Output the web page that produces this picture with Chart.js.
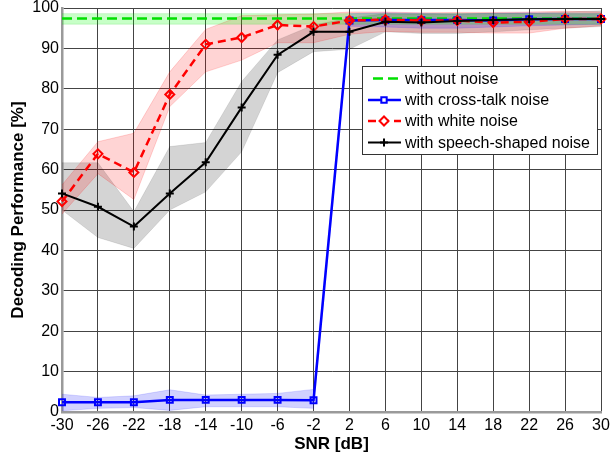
<!DOCTYPE html>
<html>
<head>
<meta charset="utf-8">
<script src="https://cdn.jsdelivr.net/npm/chart.js@4/dist/chart.umd.min.js"></script>
<style>
html,body{margin:0;padding:0;background:#fff;}
#wrap{position:relative;width:610px;height:459px;}
</style>
</head>
<body>
<div id="wrap"><canvas id="c" width="610" height="459"></canvas></div>
<script>
const snrLabels = ['-30','-26','-22','-18','-14','-10','-6','-2','2','6','10','14','18','22','26','30'];

const withoutNoise     = [97.4,97.4,97.4,97.4,97.4,97.4,97.4,97.4,97.4,97.4,97.4,97.4,97.4,97.4,97.4,97.4];
const withoutNoiseLow  = [96.0,96.0,96.0,96.0,96.0,96.0,96.0,96.0,96.0,96.0,96.0,96.0,96.0,96.0,96.0,96.0];
const withoutNoiseHigh = [98.6,98.6,98.6,98.6,98.6,98.6,98.6,98.6,98.6,98.6,98.6,98.6,98.6,98.6,98.6,98.6];

const crossTalk     = [2.4,2.4,2.4,3.0,3.0,3.0,3.0,2.9,96.9,97.0,97.0,97.0,96.9,97.2,97.3,97.3];
const crossTalkLow  = [0.3,0.9,1.1,0.4,1.3,1.3,1.3,0.9,95.5,95.3,95.0,95.0,95.3,95.6,95.8,96.0];
const crossTalkHigh = [4.4,3.6,4.0,5.5,4.2,4.4,4.6,5.6,98.6,98.8,98.7,98.5,98.7,98.8,98.6,98.6];

const whiteNoise     = [52.1,63.9,59.3,78.6,91.0,92.7,95.8,95.4,96.9,97.1,96.9,96.9,96.4,96.6,97.3,97.3];
const whiteNoiseLow  = [49.0,59.0,52.6,75.6,84.2,87.1,91.4,91.4,93.5,94.2,94.0,94.0,93.8,93.8,95.0,95.6];
const whiteNoiseHigh = [56.2,66.9,69.0,84.2,94.7,98.1,98.3,98.5,99.0,99.0,98.8,98.9,98.9,99.0,99.2,99.0];

const speechNoise     = [54.1,50.8,45.9,54.1,61.8,75.4,88.4,94.1,94.1,96.6,96.4,96.8,97.0,97.2,97.3,97.3];
const speechNoiseLow  = [50.0,43.2,40.5,50.0,54.5,64.4,84.0,89.2,89.8,94.1,93.7,93.7,94.1,94.6,95.0,95.4];
const speechNoiseHigh = [61.7,61.7,49.6,65.7,66.7,81.8,92.1,95.8,97.5,98.6,98.5,98.6,98.7,98.7,99.0,99.3];

const seriesNames = ['without noise','with cross-talk noise','with white noise','with speech-shaped noise'];

const FONT = "'Liberation Sans', Arial, sans-serif";

function band(data, fill, bg, edge) {
  return { data: data, fill: fill, backgroundColor: bg, borderColor: edge, borderWidth: 0.8, pointRadius: 0, order: 20 };
}

const legendSpec = [
  { color: '#00e000', dash: [10, 5], marker: null, width: 2.5 },
  { color: '#0000ff', dash: [], marker: 'rect', width: 2.5 },
  { color: '#ff0000', dash: [8, 5], marker: 'rectRot', width: 2.5 },
  { color: '#000000', dash: [], marker: 'cross', width: 2 }
];

const customLegend = {
  id: 'customLegend',
  afterDraw(chart) {
    const ctx = chart.ctx;
    const ca = chart.chartArea;
    const x0 = ca.right - 239, y0 = ca.top + 58, w = 235, h = 88;
    ctx.save();
    ctx.fillStyle = '#fff';
    ctx.fillRect(x0, y0, w, h);
    ctx.strokeStyle = '#333';
    ctx.lineWidth = 1;
    ctx.strokeRect(x0 + 0.5, y0 + 0.5, w, h);
    ctx.font = '16px ' + FONT;
    ctx.textBaseline = 'middle';
    const rows = [12.5, 34, 55, 76.5];
    legendSpec.forEach((s, i) => {
      const y = y0 + rows[i];
      ctx.strokeStyle = s.color;
      ctx.lineWidth = s.width;
      ctx.setLineDash(s.dash);
      ctx.beginPath();
      if (i === 0) { ctx.moveTo(x0 + 11, y); ctx.lineTo(x0 + 39, y); }
      else { ctx.moveTo(x0 + 6, y); ctx.lineTo(x0 + 39, y); }
      ctx.stroke();
      ctx.setLineDash([]);
      if (s.marker) {
        ctx.fillStyle = '#fff';
        ctx.strokeStyle = s.color;
        ctx.lineWidth = 2;
        Chart.helpers.drawPoint(ctx, { pointStyle: s.marker, radius: s.marker === 'rect' ? 3.8 : (s.marker === 'cross' ? 4 : 4.5), rotation: 0, borderWidth: 2 }, x0 + 22, y);
      }
      ctx.fillStyle = '#000';
      ctx.fillText(seriesNames[i], x0 + 43, y + 1);
    });
    ctx.restore();
  }
};

new Chart(document.getElementById('c'), {
  type: 'line',
  data: {
    labels: snrLabels,
    datasets: [
      band(withoutNoiseLow, false, 'rgba(0,0,0,0)', 'rgba(0,200,0,0.2)'),
      band(withoutNoiseHigh, '-1', 'rgba(0,255,0,0.22)', 'rgba(0,200,0,0.2)'),
      band(crossTalkLow, false, 'rgba(0,0,0,0)', 'rgba(0,0,255,0.18)'),
      band(crossTalkHigh, '-1', 'rgba(0,0,255,0.18)', 'rgba(0,0,255,0.18)'),
      band(whiteNoiseLow, false, 'rgba(0,0,0,0)', 'rgba(255,0,0,0.22)'),
      band(whiteNoiseHigh, '-1', 'rgba(255,0,0,0.17)', 'rgba(255,0,0,0.22)'),
      band(speechNoiseLow, false, 'rgba(0,0,0,0)', 'rgba(0,0,0,0.12)'),
      band(speechNoiseHigh, '-1', 'rgba(0,0,0,0.17)', 'rgba(0,0,0,0.12)'),
      { label: seriesNames[0], data: withoutNoise, borderColor: '#00e000', borderWidth: 2.5, borderDash: [10, 5], pointRadius: 0, fill: false, order: 4 },
      { label: seriesNames[1], data: crossTalk, borderColor: '#0000ff', borderWidth: 2.5, pointStyle: 'rect', pointRadius: 4.2, pointBorderWidth: 2, pointBorderColor: '#0000ff', pointBackgroundColor: 'rgba(255,255,255,0)', fill: false, order: 3 },
      { label: seriesNames[2], data: whiteNoise, borderColor: '#ff0000', borderWidth: 2.5, borderDash: [8, 5], pointStyle: 'rectRot', pointRadius: 4.5, pointBorderWidth: 2, pointBorderColor: '#ff0000', pointBackgroundColor: 'rgba(255,255,255,0)', fill: false, order: 2 },
      { label: seriesNames[3], data: speechNoise, borderColor: '#000000', borderWidth: 2, pointStyle: 'cross', pointRadius: 4, pointBorderWidth: 2, pointBorderColor: '#000', fill: false, order: 1 }
    ]
  },
  options: {
    responsive: false,
    animation: false,
    events: [],
    layout: { padding: { top: 8, right: 9, left: 0, bottom: 0 } },
    elements: { line: { tension: 0 } },
    plugins: {
      legend: { display: false },
      tooltip: { enabled: false },
      filler: { drawTime: 'beforeDatasetsDraw' }
    },
    scales: {
      x: {
        offset: false,
        grid: { color: '#444', lineWidth: 1, drawTicks: false, offset: false },
        border: { color: '#9a9a9a', width: 2.5 },
        ticks: { color: '#000', font: { family: FONT, size: 16 }, padding: 4, maxRotation: 0, autoSkip: false },
        title: { display: true, text: 'SNR [dB]', color: '#000', font: { family: FONT, size: 17, weight: 'bold', lineHeight: 1.2 }, padding: { top: 0, bottom: 4 } },
        afterFit(scale) { scale.height = 47; scale.paddingLeft = 0; scale.paddingRight = 0; }
      },
      y: {
        min: 0, max: 100,
        grid: { color: '#444', lineWidth: 1, drawTicks: false },
        border: { color: '#9a9a9a', width: 2.5 },
        ticks: { stepSize: 10, color: '#000', font: { family: FONT, size: 16 }, padding: 3 },
        title: { display: true, text: 'Decoding Performance [%]', color: '#000', font: { family: FONT, size: 17, weight: 'bold', lineHeight: 1.2 }, padding: { top: 8, bottom: 0 } },
        afterFit(scale) { scale.width = 62; scale.paddingTop = 0; scale.paddingBottom = 0; }
      }
    }
  },
  plugins: [customLegend]
});
</script>
</body>
</html>
